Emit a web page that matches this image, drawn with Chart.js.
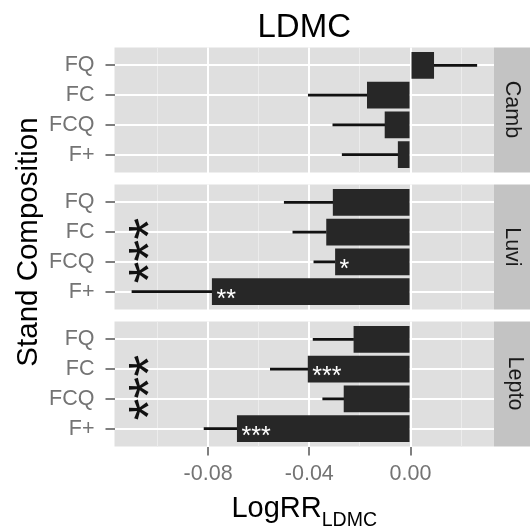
<!DOCTYPE html>
<html>
<head>
<meta charset="utf-8">
<script src="https://cdn.jsdelivr.net/npm/chart.js@4/dist/chart.umd.min.js"></script>
<style>
  html, body { margin: 0; padding: 0; background: #ffffff; }
  #wrap { position: relative; width: 530px; height: 531px; overflow: hidden; }
  #wrap canvas { position: absolute; left: 0; top: 0; }
</style>
</head>
<body>
<div id="wrap">
  <canvas id="panel0" width="530" height="531"></canvas>
  <canvas id="panel1" width="530" height="531"></canvas>
  <canvas id="panel2" width="530" height="531"></canvas>
</div>
<script>
// Stand composition rows, top to bottom within each facet
const rows = ['FQ', 'FC', 'FCQ', 'F+'];
const facetNames = ['Camb', 'Luvi', 'Lepto'];

// Log response ratio of LDMC and its error, per facet
const cambLogRR  = [0.0093, -0.0172, -0.0102, -0.0050];
const cambSE     = [0.0169, 0.0232, 0.0205, 0.0220];
const cambSig    = ['', '', '', ''];

const luviLogRR  = [-0.0307, -0.0333, -0.0298, -0.0785];
const luviSE     = [0.0192, 0.0132, 0.0084, 0.0316];
const luviSig    = ['', '', '*', '**'];

const leptoLogRR = [-0.0225, -0.0406, -0.0264, -0.0686];
const leptoSE    = [0.0160, 0.0148, 0.0083, 0.0130];
const leptoSig   = ['', '***', '', '***'];

// Facet-level significance
const facetSig = ['', '***', '***'];

// x-axis ticks
const xMajorTicks = [-0.08, -0.04, 0.00];
const xMinorTicks = [-0.10, -0.06, -0.02, 0.02];

// ---- layout ----
const W = 530, H = 531;
const PANEL_TOP = [47.5, 184.5, 321.5];
const PANEL_H = 125;
const PANEL_LEFT = 114.5;
const STRIP_W = 36;
const X_AXIS_H = 60;
const FONT = '"Liberation Sans", Arial, Helvetica, sans-serif';

Chart.defaults.font.family = FONT;

const isMajor = v => xMajorTicks.some(m => Math.abs(m - v) < 1e-9);

function fillCentered(ctx, text, cx, cy) {
  ctx.textAlign = 'left';
  ctx.textBaseline = 'alphabetic';
  const m = ctx.measureText(text);
  const w = m.actualBoundingBoxLeft + m.actualBoundingBoxRight;
  const h = m.actualBoundingBoxAscent + m.actualBoundingBoxDescent;
  ctx.fillText(text, cx - w / 2 + m.actualBoundingBoxLeft, cy + h / 2 - m.actualBoundingBoxDescent);
}

const facetPlugin = {
  id: 'facet',
  beforeDraw(chart, args, opts) {
    const { ctx, chartArea: a } = chart;
    ctx.save();
    ctx.fillStyle = '#dfdfdf';
    ctx.fillRect(a.left, a.top, a.right - a.left, a.bottom - a.top);
    ctx.fillStyle = '#c3c3c3';
    ctx.fillRect(a.right, a.top, chart.width - a.right, a.bottom - a.top);
    ctx.translate(a.right + 20, (a.top + a.bottom) / 2);
    ctx.rotate(Math.PI / 2);
    ctx.font = '21.5px ' + FONT;
    ctx.fillStyle = '#1a1a1a';
    fillCentered(ctx, opts.strip, 0, 0);
    ctx.restore();
  },
  afterDatasetsDraw(chart, args, opts) {
    const { ctx } = chart;
    const bars = chart.getDatasetMeta(0).data;
    ctx.save();
    // significance marks inside the bars
    ctx.font = '25px ' + FONT;
    ctx.fillStyle = '#ffffff';
    opts.sig.forEach((s, i) => {
      if (!s) return;
      const b = bars[i];
      const m = ctx.measureText(s);
      const w = m.actualBoundingBoxLeft + m.actualBoundingBoxRight;
      const left = b.x < b.base ? b.x + 4.5 : b.x - 4.5 - w;
      fillCentered(ctx, s, left + w / 2, b.y + 2);
    });
    // facet-level marks, set vertically on the left of the panel
    if (opts.facetMark) {
      const cx = chart.scales.x.getPixelForValue(-0.1075);
      const cy = chart.scales.y.getPixelForValue(1.64);
      ctx.translate(cx, cy);
      ctx.rotate(-Math.PI / 2);
      ctx.font = '56px ' + FONT;
      ctx.fillStyle = '#111111';
      fillCentered(ctx, opts.facetMark, 0, 0);
    }
    ctx.restore();
  },
  afterDraw(chart, args, opts) {
    const { ctx, chartArea: a } = chart;
    const cx = (a.left + a.right) / 2;
    ctx.save();
    ctx.fillStyle = '#000000';
    if (opts.title) {
      ctx.font = '33px ' + FONT;
      ctx.textAlign = 'center';
      ctx.textBaseline = 'alphabetic';
      ctx.fillText(opts.title, cx, 36.5);
    }
    if (opts.yTitle) {
      ctx.save();
      ctx.translate(36.5, 242);
      ctx.rotate(-Math.PI / 2);
      ctx.font = '29.5px ' + FONT;
      ctx.textAlign = 'center';
      ctx.textBaseline = 'alphabetic';
      ctx.fillText(opts.yTitle, 0, 0);
      ctx.restore();
    }
    if (opts.xTitle) {
      ctx.textAlign = 'left';
      ctx.textBaseline = 'alphabetic';
      ctx.font = '29px ' + FONT;
      const w1 = ctx.measureText(opts.xTitle[0]).width;
      ctx.font = '19.5px ' + FONT;
      const w2 = ctx.measureText(opts.xTitle[1]).width;
      const x0 = cx - (w1 + w2) / 2;
      ctx.font = '29px ' + FONT;
      ctx.fillText(opts.xTitle[0], x0, 516.7);
      ctx.font = '19.5px ' + FONT;
      ctx.fillText(opts.xTitle[1], x0 + w1, 526);
    }
    ctx.restore();
  }
};

function buildPanel(k, values, se, sig, extra) {
  const last = k === facetNames.length - 1;
  const axisH = last ? X_AXIS_H : 0;
  return new Chart(document.getElementById('panel' + k), {
    type: 'bar',
    data: {
      datasets: [
        {
          data: values.map((v, i) => ({ x: v, y: i })),
          backgroundColor: '#272727',
          borderWidth: 0,
          grouped: false,
          categoryPercentage: 0.9,
          barPercentage: 1,
          order: 0
        },
        {
          data: values.map((v, i) => ({ x: [v, v + Math.sign(v) * se[i]], y: i })),
          backgroundColor: '#111111',
          borderWidth: 0,
          grouped: false,
          barThickness: 2,
          order: 1
        }
      ]
    },
    options: {
      indexAxis: 'y',
      responsive: false,
      animation: false,
      events: [],
      layout: {
        padding: { left: 0, right: STRIP_W, top: PANEL_TOP[k], bottom: H - PANEL_TOP[k] - PANEL_H - axisH }
      },
      scales: {
        x: {
          type: 'linear',
          min: -0.117,
          max: 0.033,
          afterBuildTicks: s => {
            s.ticks = [...xMinorTicks, ...xMajorTicks].sort((a, b) => a - b).map(v => ({ value: v }));
          },
          afterFit: s => { s.height = axisH; },
          border: { display: false },
          grid: {
            color: c => isMajor(c.tick.value) ? '#ffffff' : '#ececec',
            lineWidth: c => isMajor(c.tick.value) ? 2 : 1,
            drawTicks: last,
            tickLength: 9,
            tickWidth: 2,
            tickColor: c => isMajor(c.tick.value) ? '#7f7f7f' : 'rgba(0,0,0,0)'
          },
          ticks: {
            display: last,
            autoSkip: false,
            maxRotation: 0,
            padding: 6,
            color: '#747474',
            font: { size: 21.5 },
            callback: v => isMajor(v) ? v.toFixed(2) : ''
          }
        },
        y: {
          type: 'linear',
          reverse: true,
          offset: false,
          min: -0.6,
          max: 3.6,
          afterBuildTicks: s => { s.ticks = rows.map((_, i) => ({ value: i })); },
          afterFit: s => { s.width = PANEL_LEFT; },
          border: { display: false },
          grid: {
            offset: false,
            color: '#ffffff',
            lineWidth: 2,
            tickLength: 9,
            tickWidth: 2,
            tickColor: '#7f7f7f'
          },
          ticks: {
            autoSkip: false,
            padding: 11,
            color: '#747474',
            font: { size: 21.5 },
            callback: v => rows[v]
          }
        }
      },
      plugins: {
        legend: { display: false },
        tooltip: { enabled: false },
        facet: Object.assign({ strip: facetNames[k], sig: sig, facetMark: facetSig[k] }, extra)
      }
    },
    plugins: [facetPlugin]
  });
}

buildPanel(0, cambLogRR, cambSE, cambSig, { title: 'LDMC' });
buildPanel(1, luviLogRR, luviSE, luviSig, { yTitle: 'Stand Composition' });
buildPanel(2, leptoLogRR, leptoSE, leptoSig, { xTitle: ['LogRR', 'LDMC'] });
</script>
</body>
</html>
